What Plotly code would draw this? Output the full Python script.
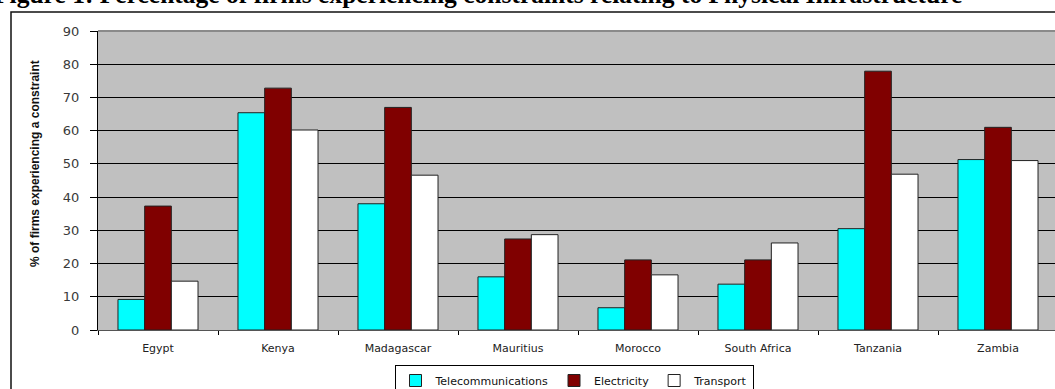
import plotly.graph_objects as go

# Share of firms reporting each infrastructure constraint (%)
countries = ["Egypt", "Kenya", "Madagascar", "Mauritius", "Morocco",
             "South Africa", "Tanzania", "Zambia"]
telecommunications = [9.2, 65.4, 38.0, 16.0, 6.7, 13.8, 30.5, 51.3]
electricity = [37.3, 72.8, 67.0, 27.4, 21.1, 21.1, 77.9, 61.0]
transport = [14.7, 60.2, 46.6, 28.7, 16.6, 26.2, 46.9, 51.0]
y_ticks = [0, 10, 20, 30, 40, 50, 60, 70, 80, 90]

title_text = ("Figure 1: Percentage of firms experiencing constraints "
              "relating to Physical Infrastructure")
y_title = "% of firms experiencing a constraint"

W, H = 1055, 389
ML, MR, MT, MB = 98, 0, 31, 59
plot_w = W - ML - MR
plot_h = H - MT - MB


def px_x(px):
    return (px - ML) / plot_w


def px_y(py):
    return (H - MB - py) / plot_h


fig = go.Figure()
series = [("Telecommunications", telecommunications, "#00FFFF"),
          ("Electricity", electricity, "#800000"),
          ("Transport", transport, "#FFFFFF")]
for name, vals, color in series:
    fig.add_trace(go.Bar(
        x=countries, y=vals, name=name,
        marker=dict(color=color, line=dict(color="#222222", width=1)),
    ))

fig.update_layout(
    width=W, height=H,
    margin=dict(l=ML, r=MR, t=MT, b=MB, pad=0, autoexpand=False),
    paper_bgcolor="#FFFFFF",
    plot_bgcolor="#C0C0C0",
    barmode="group",
    bargap=0.333,
    bargroupgap=0,
    font=dict(family="Liberation Sans, Arial, sans-serif", color="#222222"),
    showlegend=True,
    legend=dict(
        orientation="h",
        x=px_x(574), xanchor="center",
        y=px_y(365), yanchor="top",
        bordercolor="#000000", borderwidth=1,
        bgcolor="#FFFFFF",
        font=dict(family="DejaVu Sans, sans-serif", size=11, color="#111111"),
        tracegroupgap=0,
    ),
    xaxis=dict(
        range=[-0.5, -0.5 + plot_w / 120.0],
        showline=True, linecolor="#555555", linewidth=1,
        ticks="outside", tickson="boundaries", ticklen=4,
        tickcolor="#000000",
        ticklabelstandoff=8,
        showgrid=False,
        tickfont=dict(family="DejaVu Sans, sans-serif", size=11, color="#222222"),
        fixedrange=True,
    ),
    yaxis=dict(
        range=[0, 90],
        tickvals=y_ticks,
        showline=True, linecolor="#000000", linewidth=1,
        ticks="outside", ticklen=7, tickcolor="#000000",
        ticklabelstandoff=8,
        showgrid=True, gridcolor="#000000", gridwidth=1,
        zeroline=False,
        tickfont=dict(family="DejaVu Sans, sans-serif", size=13, color="#3A3A3A"),
        fixedrange=True,
    ),
)

# Plot-area top edge
fig.add_shape(type="line", xref="paper", yref="paper",
              x0=0, x1=1, y0=1, y1=1,
              line=dict(color="#8A8A8A", width=2))

# Outer chart frame
fig.add_shape(type="rect", xref="paper", yref="paper",
              x0=px_x(11), x1=px_x(W + 20), y0=px_y(H + 20), y1=px_y(12),
              line=dict(color="#111111", width=1.5), fillcolor="rgba(0,0,0,0)",
              layer="above")

# Figure caption above the frame
fig.add_annotation(
    text="<b>" + title_text + "</b>",
    xref="paper", yref="paper",
    x=px_x(-8), xanchor="left",
    y=px_y(11), yanchor="bottom",
    showarrow=False,
    font=dict(family="Liberation Serif, Times New Roman, serif", size=25.5,
              color="#000000"),
)

# Y-axis title
fig.add_annotation(
    text="<b>" + y_title + "</b>",
    xref="paper", yref="paper",
    x=px_x(35), y=px_y(164),
    xanchor="center", yanchor="middle",
    textangle=-90, showarrow=False,
    font=dict(family="Liberation Sans, Arial, sans-serif", size=12,
              color="#111111"),
)

fig.write_html("out.html")
